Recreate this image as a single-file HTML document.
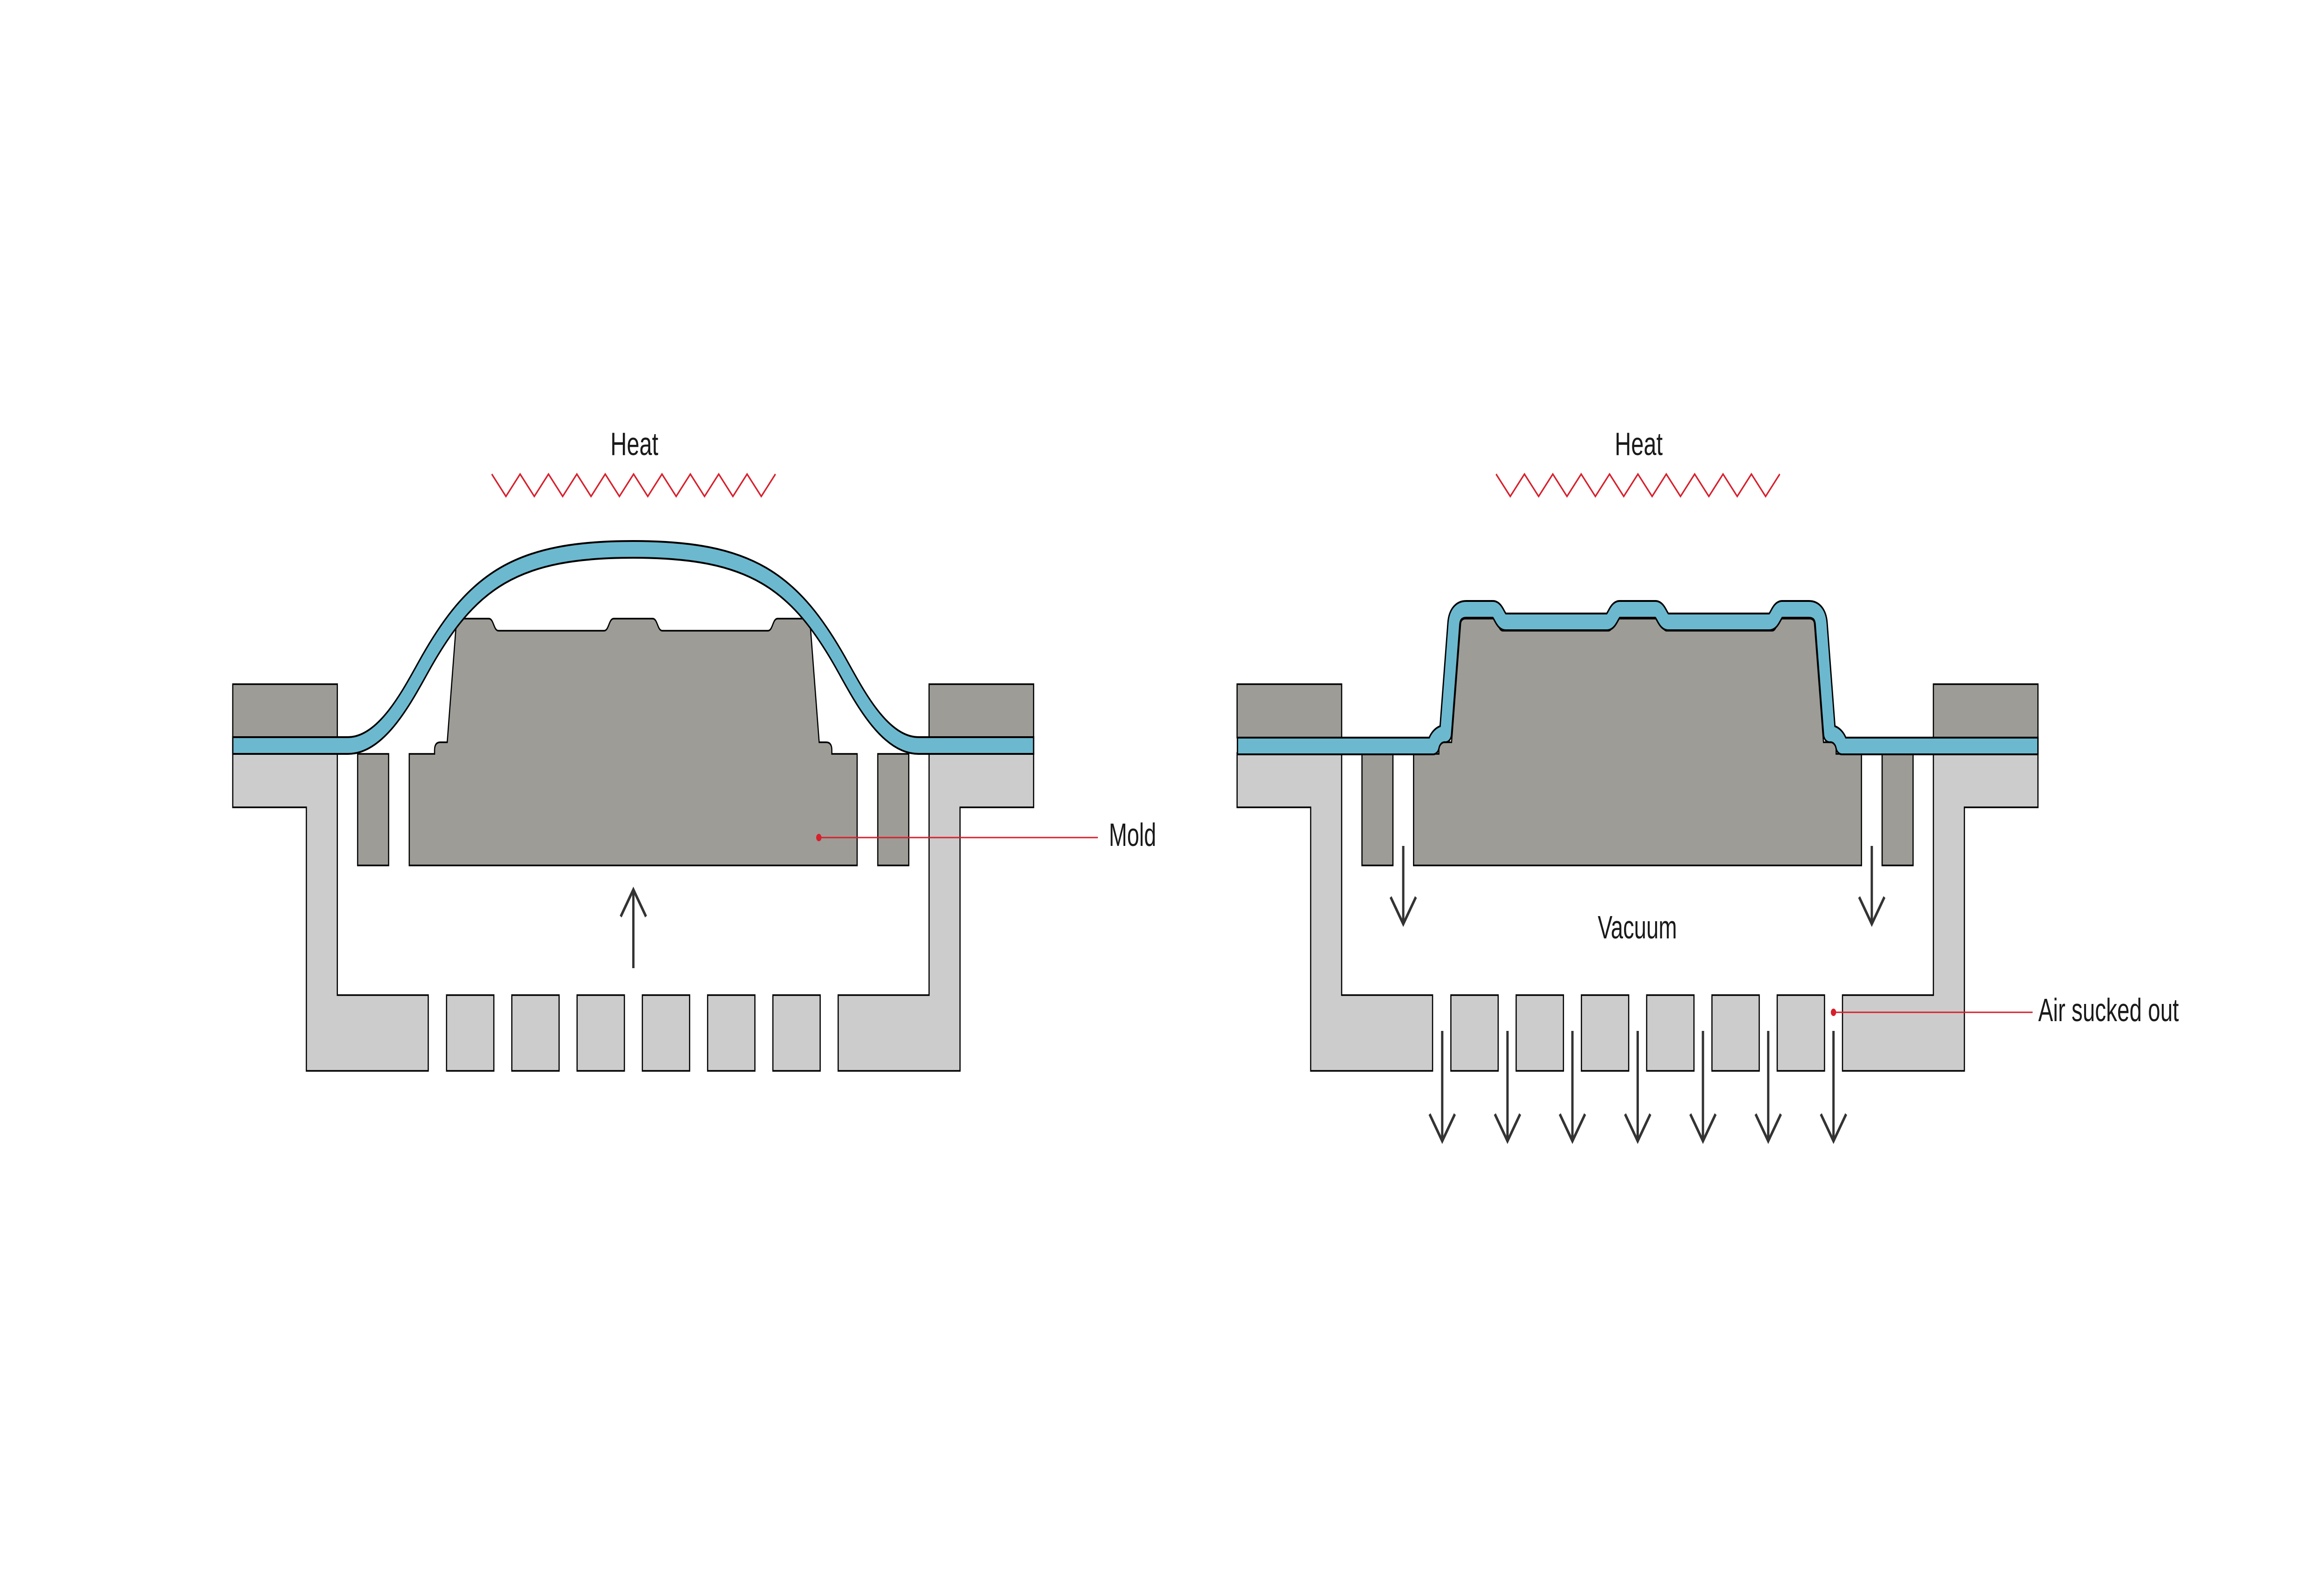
<!DOCTYPE html>
<html>
<head>
<meta charset="utf-8">
<style>
html,body{margin:0;padding:0;background:#fff;width:100%;height:100%;overflow:hidden;}
svg{display:block;position:fixed;left:0;top:0;width:100vw;height:100vh;}
text{font-family:"Liberation Sans",sans-serif;fill:#1a1a1a;}
</style>
</head>
<body>
<svg viewBox="0 0 6979 3408" preserveAspectRatio="none" xmlns="http://www.w3.org/2000/svg">
<rect x="0" y="0" width="6979" height="3408" fill="#fff"/>
<defs>
  <g id="rig">
    <path d="M 699 1620 L 699 1737 L 920 1737 L 920 2304 L 1286 2304 L 1286 2141 L 1013 2141 L 1013 1620 Z" fill="#cccccc" stroke="#000" stroke-width="3.5"/>
    <path d="M 3104 1620 L 3104 1737 L 2883 1737 L 2883 2304 L 2517 2304 L 2517 2141 L 2790 2141 L 2790 1620 Z" fill="#cccccc" stroke="#000" stroke-width="3.5"/>
    <g fill="#cccccc" stroke="#000" stroke-width="3.5">
      <rect x="1341" y="2141" width="142" height="163"/>
      <rect x="1537" y="2141" width="142" height="163"/>
      <rect x="1733" y="2141" width="142" height="163"/>
      <rect x="1929" y="2141" width="142" height="163"/>
      <rect x="2125" y="2141" width="142" height="163"/>
      <rect x="2321" y="2141" width="142" height="163"/>
    </g>
    <g fill="#9d9c97" stroke="#000" stroke-width="3.5">
      <rect x="699" y="1472" width="314" height="115"/>
      <rect x="2790" y="1472" width="314" height="115"/>
      <rect x="1074" y="1622" width="93" height="240"/>
      <rect x="2636" y="1622" width="93" height="240"/>
      <path d="M 1229 1862 L 1229 1622 L 1305 1622 L 1305 1614 Q 1305 1597 1322 1597 L 1343 1597 L 1370 1343 Q 1371 1331 1385 1331 L 1468 1331 C 1483 1331 1482 1357 1497 1357 L 1814 1357 C 1829 1357 1828 1331 1843 1331 L 1960 1331 C 1975 1331 1974 1357 1989 1357 L 2306 1357 C 2321 1357 2320 1331 2335 1331 L 2418 1331 Q 2432 1331 2433 1343 L 2460 1597 L 2481 1597 Q 2498 1597 2498 1614 L 2498 1622 L 2574 1622 L 2574 1862 Z"/>
    </g>
    <path d="M 1476.7 1020 l42.6 48 l42.6 -48 l42.6 48 l42.6 -48 l42.6 48 l42.6 -48 l42.6 48 l42.6 -48 l42.6 48 l42.6 -48 l42.6 48 l42.6 -48 l42.6 48 l42.6 -48 l42.6 48 l42.6 -48 l42.6 48 l42.6 -48 l42.6 48 l42.6 -48" fill="none" stroke="#d7202c" stroke-width="4" stroke-linejoin="miter"/>
    <text x="1833" y="979" font-size="70" textLength="144" lengthAdjust="spacingAndGlyphs">Heat</text>
  </g>
</defs>

<use href="#rig"/>
<path d="M 697 1604 L 1045 1604 C 1145 1604 1221 1500 1270 1437 C 1416 1247 1551 1182 1901.5 1182 C 2252 1182 2387 1247 2533 1437 C 2582 1500 2658 1604 2758 1604 L 3106 1604" fill="none" stroke="#000" stroke-width="40"/>
<path d="M 701 1604 L 1045 1604 C 1145 1604 1221 1500 1270 1437 C 1416 1247 1551 1182 1901.5 1182 C 2252 1182 2387 1247 2533 1437 C 2582 1500 2658 1604 2758 1604 L 3102 1604" fill="none" stroke="#6cb9cf" stroke-width="32"/>
<g fill="none" stroke="#333" stroke-width="7">
  <path d="M 1902 2083 L 1902 1918"/>
  <path d="M 1864 1972 L 1902 1914 L 1940 1972"/>
</g>
<line x1="2459" y1="1802" x2="3297" y2="1802" stroke="#d7202c" stroke-width="3"/>
<circle cx="2459" cy="1802" r="8" fill="#d7202c"/>
<text x="3330" y="1820" font-size="70" textLength="142" lengthAdjust="spacingAndGlyphs">Mold</text>

<use href="#rig" transform="translate(3016,0)"/>
<path d="M 3714 1605 L 4304 1605 A 35 35 0 0 1 4341 1579 L 4366 1342 C 4368 1322 4381 1311 4403 1311 L 4483 1311 C 4502 1311 4503 1338 4522 1338 L 4825 1338 C 4844 1338 4845 1311 4864 1311 L 4971 1311 C 4990 1311 4991 1338 5010 1338 L 5313 1338 C 5332 1338 5333 1311 5352 1311 L 5432 1311 C 5454 1311 5467 1322 5469 1342 L 5494 1579 A 35 35 0 0 1 5531 1605 L 6122 1605" fill="none" stroke="#000" stroke-width="40" stroke-linejoin="round"/>
<path d="M 3718 1605 L 4304 1605 A 35 35 0 0 1 4341 1579 L 4366 1342 C 4368 1322 4381 1311 4403 1311 L 4483 1311 C 4502 1311 4503 1338 4522 1338 L 4825 1338 C 4844 1338 4845 1311 4864 1311 L 4971 1311 C 4990 1311 4991 1338 5010 1338 L 5313 1338 C 5332 1338 5333 1311 5352 1311 L 5432 1311 C 5454 1311 5467 1322 5469 1342 L 5494 1579 A 35 35 0 0 1 5531 1605 L 6118 1605" fill="none" stroke="#6cb9cf" stroke-width="32" stroke-linejoin="round"/>

<g fill="none" stroke="#333" stroke-width="7">
  <path d="M 4214 1820 L 4214 1984"/>
  <path d="M 4176 1930 L 4214 1988 L 4252 1930"/>
  <path d="M 5621 1820 L 5621 1984"/>
  <path d="M 5583 1930 L 5621 1988 L 5659 1930"/>
  <path d="M 4331 2218 L 4331 2450"/><path d="M 4293 2397 L 4331 2455 L 4369 2397"/>
  <path d="M 4527 2218 L 4527 2450"/><path d="M 4489 2397 L 4527 2455 L 4565 2397"/>
  <path d="M 4722 2218 L 4722 2450"/><path d="M 4684 2397 L 4722 2455 L 4760 2397"/>
  <path d="M 4918 2218 L 4918 2450"/><path d="M 4880 2397 L 4918 2455 L 4956 2397"/>
  <path d="M 5114 2218 L 5114 2450"/><path d="M 5076 2397 L 5114 2455 L 5152 2397"/>
  <path d="M 5310 2218 L 5310 2450"/><path d="M 5272 2397 L 5310 2455 L 5348 2397"/>
  <path d="M 5506 2218 L 5506 2450"/><path d="M 5468 2397 L 5506 2455 L 5544 2397"/>
</g>

<text x="4798" y="2019" font-size="70" textLength="238" lengthAdjust="spacingAndGlyphs">Vacuum</text>

<line x1="5506" y1="2178" x2="6104" y2="2178" stroke="#d7202c" stroke-width="3"/>
<circle cx="5506" cy="2178" r="8" fill="#d7202c"/>
<text x="6121" y="2197" font-size="70" textLength="422" lengthAdjust="spacingAndGlyphs">Air sucked out</text>
</svg>
</body>
</html>
